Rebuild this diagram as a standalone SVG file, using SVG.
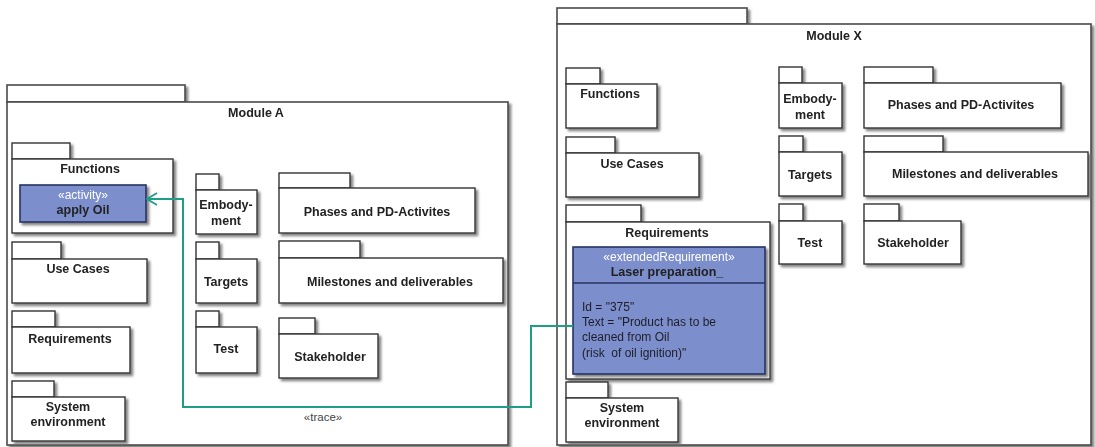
<svg xmlns="http://www.w3.org/2000/svg" width="1095" height="447" viewBox="0 0 1095 447">
  <defs>
    <filter id="shadow" x="-5%" y="-5%" width="115%" height="120%">
      <feDropShadow dx="2.5" dy="2.5" stdDeviation="0.8" flood-color="#6e6e6e" flood-opacity="0.85"/>
    </filter>
    <marker id="openArrow" viewBox="0 0 12 14" refX="11" refY="7" markerWidth="12" markerHeight="14" markerUnits="userSpaceOnUse" orient="auto">
      <path d="M1,1 L11,7 L1,13" fill="none" stroke="#1d9f87" stroke-width="1.8"/>
    </marker>
  </defs>
  <style>
    .pkg { fill: #ffffff; stroke: #333333; stroke-width: 1.4; }
    .mod { fill: #ffffff; stroke: #4a4a4a; stroke-width: 1.6; }
    .cls { fill: #7b8ecb; stroke: #253363; stroke-width: 1.6; }
    .lbl { font-family: "Liberation Sans", Arial, sans-serif; font-size: 12.5px; font-weight: bold; fill: #222222; text-anchor: middle; }
    .stereo { font-family: "Liberation Sans", Arial, sans-serif; font-size: 12px; fill: #ffffff; text-anchor: middle; }
    .attr { font-family: "Liberation Sans", Arial, sans-serif; font-size: 12px; fill: #1e1e2a; white-space: pre; }
    .conn { fill: none; stroke: #1d9f87; stroke-width: 2; }
    .clbl { font-family: "Liberation Sans", Arial, sans-serif; font-size: 11.5px; fill: #444444; text-anchor: middle; }
  </style>

  <!-- Module A -->
  <g id="module-a" filter="url(#shadow)">
    <rect class="mod" x="7" y="85" width="178" height="17"/>
    <rect class="mod" x="7" y="102" width="501" height="343"/>
    <text class="lbl" x="256" y="117">Module A</text>
  </g>
  <g id="a-functions" filter="url(#shadow)">
    <rect class="pkg" x="12" y="143" width="58" height="16"/>
    <rect class="pkg" x="12" y="159" width="161" height="74"/>
    <text class="lbl" x="90" y="173">Functions</text>
  </g>
  <g id="a-apply-oil" filter="url(#shadow)">
    <rect class="cls" x="20" y="185" width="126" height="37"/>
    <text class="stereo" x="83" y="199">«activity»</text>
    <text class="lbl" x="83" y="214">apply Oil</text>
  </g>
  <g id="a-embodyment" filter="url(#shadow)">
    <rect class="pkg" x="196" y="174" width="23" height="16"/>
    <rect class="pkg" x="196" y="190" width="61" height="44"/>
    <text class="lbl" x="226" y="209">Embody-</text>
    <text class="lbl" x="226" y="225">ment</text>
  </g>
  <g id="a-phases" filter="url(#shadow)">
    <rect class="pkg" x="279" y="173" width="71" height="15"/>
    <rect class="pkg" x="279" y="188" width="196" height="45"/>
    <text class="lbl" x="377" y="216">Phases and PD-Activites</text>
  </g>
  <g id="a-use-cases" filter="url(#shadow)">
    <rect class="pkg" x="12" y="242" width="49" height="17"/>
    <rect class="pkg" x="12" y="259" width="135" height="44"/>
    <text class="lbl" x="78" y="273">Use Cases</text>
  </g>
  <g id="a-targets" filter="url(#shadow)">
    <rect class="pkg" x="196" y="242" width="23" height="17"/>
    <rect class="pkg" x="196" y="259" width="61" height="44"/>
    <text class="lbl" x="226" y="286">Targets</text>
  </g>
  <g id="a-milestones" filter="url(#shadow)">
    <rect class="pkg" x="279" y="241" width="81" height="17"/>
    <rect class="pkg" x="279" y="258" width="224" height="45"/>
    <text class="lbl" x="390" y="286">Milestones and deliverables</text>
  </g>
  <g id="a-requirements" filter="url(#shadow)">
    <rect class="pkg" x="12" y="311" width="43" height="16"/>
    <rect class="pkg" x="12" y="327" width="118" height="46"/>
    <text class="lbl" x="70" y="343">Requirements</text>
  </g>
  <g id="a-test" filter="url(#shadow)">
    <rect class="pkg" x="196" y="311" width="23" height="16"/>
    <rect class="pkg" x="196" y="327" width="61" height="46"/>
    <text class="lbl" x="226" y="353">Test</text>
  </g>
  <g id="a-stakeholder" filter="url(#shadow)">
    <rect class="pkg" x="279" y="318" width="36" height="16"/>
    <rect class="pkg" x="279" y="334" width="99" height="44"/>
    <text class="lbl" x="330" y="361">Stakeholder</text>
  </g>
  <g id="a-system-environment" filter="url(#shadow)">
    <rect class="pkg" x="12" y="381" width="42" height="16"/>
    <rect class="pkg" x="12" y="397" width="113" height="44"/>
    <text class="lbl" x="68" y="411">System</text>
    <text class="lbl" x="68" y="426">environment</text>
  </g>

  <!-- Module X -->
  <g id="module-x" filter="url(#shadow)">
    <rect class="mod" x="557" y="8" width="190" height="16"/>
    <rect class="mod" x="557" y="24" width="534" height="421"/>
    <text class="lbl" x="834" y="40">Module X</text>
  </g>
  <g id="x-functions" filter="url(#shadow)">
    <rect class="pkg" x="566" y="68" width="34" height="16"/>
    <rect class="pkg" x="566" y="84" width="91" height="44"/>
    <text class="lbl" x="610" y="98">Functions</text>
  </g>
  <g id="x-use-cases" filter="url(#shadow)">
    <rect class="pkg" x="566" y="137" width="49" height="16"/>
    <rect class="pkg" x="566" y="153" width="133" height="44"/>
    <text class="lbl" x="632" y="168">Use Cases</text>
  </g>
  <g id="x-embodyment" filter="url(#shadow)">
    <rect class="pkg" x="779" y="67" width="23" height="16"/>
    <rect class="pkg" x="779" y="83" width="63" height="45"/>
    <text class="lbl" x="810" y="103">Embody-</text>
    <text class="lbl" x="810" y="119">ment</text>
  </g>
  <g id="x-phases" filter="url(#shadow)">
    <rect class="pkg" x="864" y="67" width="69" height="16"/>
    <rect class="pkg" x="864" y="83" width="197" height="45"/>
    <text class="lbl" x="961" y="109">Phases and PD-Activites</text>
  </g>
  <g id="x-targets" filter="url(#shadow)">
    <rect class="pkg" x="779" y="136" width="24" height="16"/>
    <rect class="pkg" x="779" y="152" width="63" height="44"/>
    <text class="lbl" x="810" y="179">Targets</text>
  </g>
  <g id="x-milestones" filter="url(#shadow)">
    <rect class="pkg" x="864" y="136" width="79" height="16"/>
    <rect class="pkg" x="864" y="152" width="224" height="44"/>
    <text class="lbl" x="975" y="178">Milestones and deliverables</text>
  </g>
  <g id="x-test" filter="url(#shadow)">
    <rect class="pkg" x="779" y="204" width="24" height="17"/>
    <rect class="pkg" x="779" y="221" width="63" height="43"/>
    <text class="lbl" x="810" y="247">Test</text>
  </g>
  <g id="x-stakeholder" filter="url(#shadow)">
    <rect class="pkg" x="864" y="204" width="35" height="17"/>
    <rect class="pkg" x="864" y="221" width="97" height="43"/>
    <text class="lbl" x="913" y="247">Stakeholder</text>
  </g>
  <g id="x-requirements" filter="url(#shadow)">
    <rect class="pkg" x="566" y="205" width="75" height="17"/>
    <rect class="pkg" x="566" y="222" width="204" height="157"/>
    <text class="lbl" x="667" y="237">Requirements</text>
  </g>
  <g id="x-laser-preparation" filter="url(#shadow)">
    <rect class="cls" x="573" y="247" width="192" height="127"/>
    <line x1="573" y1="283" x2="765" y2="283" stroke="#253363" stroke-width="1.6"/>
    <text class="stereo" x="669" y="261">«extendedRequirement»</text>
    <text class="lbl" x="667" y="276">Laser preparation_</text>
    <text class="attr" x="582" y="311">Id = "375"</text>
    <text class="attr" x="582" y="326">Text = "Product has to be</text>
    <text class="attr" x="582" y="341">cleaned from Oil</text>
    <text class="attr" x="582" y="357">(risk&#160; of oil ignition)"</text>
  </g>
  <g id="x-system-environment" filter="url(#shadow)">
    <rect class="pkg" x="566" y="382" width="42" height="16"/>
    <rect class="pkg" x="566" y="398" width="112" height="44"/>
    <text class="lbl" x="622" y="412">System</text>
    <text class="lbl" x="622" y="427">environment</text>
  </g>

  <!-- trace dependency from the requirement to the activity -->
  <g id="connectors">
    <path class="conn" d="M573,326 H531 V407 H183 V199 H147" marker-end="url(#openArrow)"/>
    <text class="clbl" x="323" y="421">«trace»</text>
  </g>
</svg>
